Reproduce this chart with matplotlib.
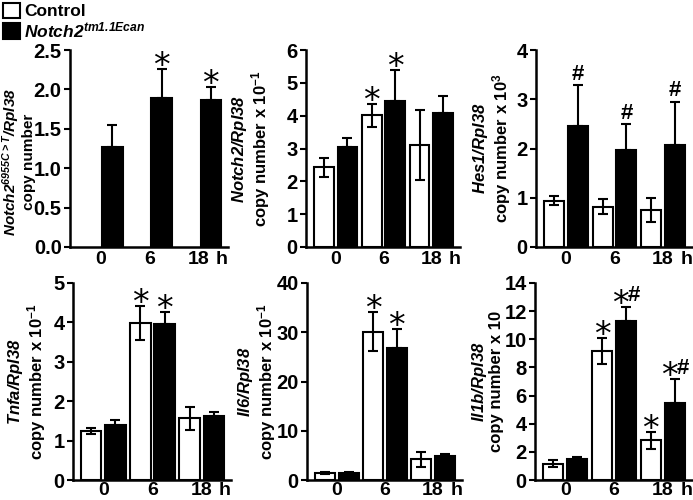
import numpy as np
import matplotlib
matplotlib.use("Agg")
import matplotlib.pyplot as plt
from matplotlib.patches import Patch

plt.rcParams["font.family"] = ["Liberation Sans", "DejaVu Sans"]
plt.rcParams["font.weight"] = "bold"
plt.rcParams["axes.labelweight"] = "bold"
plt.rcParams["mathtext.fontset"] = "custom"
plt.rcParams["mathtext.rm"] = "Liberation Sans:italic:bold"
plt.rcParams["mathtext.it"] = "Liberation Sans:italic:bold"
plt.rcParams["mathtext.bf"] = "Liberation Sans:bold"
plt.rcParams["mathtext.sf"] = "Liberation Sans:bold"
plt.rcParams["mathtext.default"] = "it"

# time points (h)
times = ["0", "6", "18"]

# Notch2 6955C>T transcript (mutant only)
n2mut_ctrl = None
n2mut_mut = [1.27, 1.89, 1.87]
n2mut_mut_err = [0.28, 0.37, 0.16]
n2mut_mut_sig = ["", "*", "*"]

# Notch2
notch2_ctrl = [2.43, 4.01, 3.11]
notch2_ctrl_err = [0.29, 0.34, 1.06]
notch2_ctrl_sig = ["", "*", ""]
notch2_mut = [3.05, 4.44, 4.08]
notch2_mut_err = [0.27, 0.94, 0.53]
notch2_mut_sig = ["", "*", ""]

# Hes1
hes1_ctrl = [0.94, 0.82, 0.75]
hes1_ctrl_err = [0.09, 0.16, 0.24]
hes1_ctrl_sig = ["", "", ""]
hes1_mut = [2.45, 1.97, 2.08]
hes1_mut_err = [0.83, 0.52, 0.87]
hes1_mut_sig = ["#", "#", "#"]

# Tnfa
tnfa_ctrl = [1.24, 3.99, 1.57]
tnfa_ctrl_err = [0.08, 0.43, 0.29]
tnfa_ctrl_sig = ["", "*", ""]
tnfa_mut = [1.40, 3.95, 1.62]
tnfa_mut_err = [0.13, 0.32, 0.11]
tnfa_mut_sig = ["", "*", ""]

# Il6
il6_ctrl = [1.4, 30.1, 4.2]
il6_ctrl_err = [0.2, 4.0, 1.5]
il6_ctrl_sig = ["", "*", ""]
il6_mut = [1.4, 26.8, 4.9]
il6_mut_err = [0.15, 3.9, 0.3]
il6_mut_sig = ["", "*", ""]

# Il1b
il1b_ctrl = [1.17, 9.14, 2.81]
il1b_ctrl_err = [0.22, 0.92, 0.58]
il1b_ctrl_sig = ["", "*", "*"]
il1b_mut = [1.52, 11.3, 5.48]
il1b_mut_err = [0.08, 1.0, 1.69]
il1b_mut_sig = ["", "*#", "*#"]

ylabels = [
    "$Notch2^{6955C>T}/Rpl38$\ncopy number",
    "$Notch2/Rpl38$\ncopy number x 10$^{\\mathbf{-1}}$",
    "$Hes1/Rpl38$\ncopy number x 10$^{\\mathbf{3}}$",
    "$Tnfa/Rpl38$\ncopy number x 10$^{\\mathbf{-1}}$",
    "$Il6/Rpl38$\ncopy number x 10$^{\\mathbf{-1}}$",
    "$Il1b/Rpl38$\ncopy number x 10",
]
yticks = [
    [0.0, 0.5, 1.0, 1.5, 2.0, 2.5],
    [0, 1, 2, 3, 4, 5, 6],
    [0, 1, 2, 3, 4],
    [0, 1, 2, 3, 4, 5],
    [0, 10, 20, 30, 40],
    [0, 2, 4, 6, 8, 10, 12, 14],
]
ytick_fmt = ["%.1f", "%d", "%d", "%d", "%d", "%d"]

panels = [
    (n2mut_ctrl, None, None, n2mut_mut, n2mut_mut_err, n2mut_mut_sig),
    (notch2_ctrl, notch2_ctrl_err, notch2_ctrl_sig, notch2_mut, notch2_mut_err, notch2_mut_sig),
    (hes1_ctrl, hes1_ctrl_err, hes1_ctrl_sig, hes1_mut, hes1_mut_err, hes1_mut_sig),
    (tnfa_ctrl, tnfa_ctrl_err, tnfa_ctrl_sig, tnfa_mut, tnfa_mut_err, tnfa_mut_sig),
    (il6_ctrl, il6_ctrl_err, il6_ctrl_sig, il6_mut, il6_mut_err, il6_mut_sig),
    (il1b_ctrl, il1b_ctrl_err, il1b_ctrl_sig, il1b_mut, il1b_mut_err, il1b_mut_sig),
]

# axes placement in pixels: left, top, width (height 197)
W, H = 693, 500
boxes = [(70, 50, 158), (306, 50, 154), (536, 50, 156),
         (73, 283, 158), (307, 283, 155), (535, 283, 157)]
label_xy = [(-0.215, 0.43), (-0.22, 0.5), (-0.15, 0.5),
            (-0.16, 0.5), (-0.19, 0.5), (-0.195, 0.5)]
label_size = [11, 12, 12, 12, 12, 12]

fig = plt.figure(figsize=(W / 100, H / 100), dpi=100)

bw = 0.41
off = 0.245
xmin, xmax = -0.62, 2.6


def mark(ax, x, y, s):
    if s == "":
        return
    if s == "*":
        ax.annotate("*", xy=(x, y), xytext=(0, -5), textcoords="offset points",
                    ha="center", va="baseline", fontsize=24, fontweight="normal",
                    family="DejaVu Sans")
    elif s == "#":
        ax.annotate("#", xy=(x, y), xytext=(0, 4), textcoords="offset points",
                    ha="center", va="baseline", fontsize=16, fontweight="bold")
    elif s == "*#":
        ax.annotate("*", xy=(x, y), xytext=(2, -5), textcoords="offset points",
                    ha="right", va="baseline", fontsize=24, fontweight="normal",
                    family="DejaVu Sans")
        ax.annotate("#", xy=(x, y), xytext=(1.5, 4), textcoords="offset points",
                    ha="left", va="baseline", fontsize=16, fontweight="bold")


for i, (ctrl, ctrl_err, ctrl_sig, mut, mut_err, mut_sig) in enumerate(panels):
    left, top, width = boxes[i]
    ax = fig.add_axes([left / W, 1 - (top + 197) / H, width / W, 197 / H])
    x = np.arange(len(times))

    if ctrl is not None:
        ax.bar(x - off, ctrl, bw, color="white", edgecolor="black", linewidth=1.5, zorder=2)
        ax.errorbar(x - off, ctrl, yerr=ctrl_err, fmt="none", ecolor="black",
                    elinewidth=1.5, capsize=3.5, capthick=1.5, zorder=3)
        for xi, m, e, s in zip(x - off, ctrl, ctrl_err, ctrl_sig):
            mark(ax, xi, m + e, s)
    ax.bar(x + off, mut, bw, color="black", edgecolor="black", linewidth=1.5, zorder=2)
    ax.errorbar(x + off, mut, yerr=[np.zeros(len(mut)), mut_err], fmt="none",
                ecolor="black", elinewidth=1.5, capsize=3.5, capthick=1.5, zorder=3)
    for xi, m, e, s in zip(x + off, mut, mut_err, mut_sig):
        mark(ax, xi, m + e, s)

    ax.set_xlim(xmin, xmax)
    ax.set_ylim(yticks[i][0], yticks[i][-1])
    ax.set_yticks(yticks[i])
    ax.set_yticklabels([ytick_fmt[i] % v for v in yticks[i]])
    ax.set_xticks(list(x) + [xmax - 0.12])
    ax.set_xticklabels(times + ["h"])
    ax.tick_params(axis="y", direction="out", length=4, width=1.5, labelsize=14.5, pad=2)
    ax.tick_params(axis="x", length=0, labelsize=14, pad=3 if i < 3 else 1.5)
    for sp in ["top", "right"]:
        ax.spines[sp].set_visible(False)
    for sp in ["left", "bottom"]:
        ax.spines[sp].set_linewidth(1.8)
    ax.set_ylabel(ylabels[i], fontsize=label_size[i], linespacing=1.0)
    ax.yaxis.set_label_coords(*label_xy[i])

handles = [Patch(facecolor="white", edgecolor="black", linewidth=1.5),
           Patch(facecolor="black", edgecolor="black", linewidth=1.5)]
fig.legend(handles, ["Control", "$Notch2^{tm1.1Ecan}$"], loc="upper left",
           bbox_to_anchor=(0.0, 1.0), frameon=False, fontsize=12.5,
           handlelength=1.0, handleheight=1.0, handletextpad=0.25,
           borderpad=0.05, borderaxespad=0.1, labelspacing=0.05)

fig.savefig("out.png", dpi=100)
